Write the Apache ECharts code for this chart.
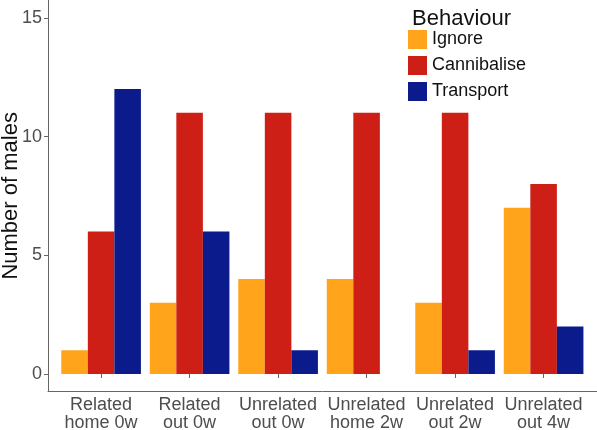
<!doctype html>
<html><head><meta charset="utf-8" />
<style>
  html,body,#app{margin:0;padding:0;width:597px;height:430px;background:#ffffff}
</style>
<script src="https://cdn.jsdelivr.net/npm/echarts@6/dist/echarts.min.js"></script>
</head><body><div id="app"></div>
<script>
// grouped counts per treatment
const categories = ['Related\nhome 0w','Related\nout 0w','Unrelated\nout 0w','Unrelated\nhome 2w','Unrelated\nout 2w','Unrelated\nout 4w'];
const ignore      = [1, 3, 4, 4, 3, 7];
const cannibalise = [6, 11, 11, 11, 11, 8];
const transport   = [12, 6, 1, 0, 1, 2];
const yTicks = [0, 5, 10, 15];

const FONT = 'Arial, "Liberation Sans", sans-serif';
const AXIS = '#666666';
const TXT = '#4d4d4d';

const chart = echarts.init(document.getElementById('app'), null, { renderer: 'canvas' });

// grid 0 = full panel (axis lines only), grid 1 = discrete scale with 0.6 expansion for the bars
const option = {
  backgroundColor: '#ffffff',
  animation: false,
  textStyle: { fontFamily: FONT },
  title: { text: 'Behaviour', left: 407, top: 3, textStyle: { fontFamily: FONT, fontSize: 22, fontWeight: 'normal', color: '#111' } },
  legend: {
    data: ['Ignore','Cannibalise','Transport'], orient: 'vertical', left: 408, top: 30,
    itemWidth: 19, itemHeight: 19, itemGap: 7, icon: 'rect', padding: 0,
    textStyle: { fontFamily: FONT, fontSize: 18, color: '#111' }
  },
  grid: [
    { left: 48, right: 0, top: 0, bottom: 38.3, outerBoundsMode: 'none', containLabel: false },
    { left: 56.85, right: 9.15, top: 0, bottom: 56, outerBoundsMode: 'none', containLabel: false }
  ],
  xAxis: [
    { gridIndex: 0, type: 'value', min: 0, max: 1, axisLine: { show: true, lineStyle: { color: AXIS, width: 1 } },
      axisTick: { show: false }, axisLabel: { show: false }, splitLine: { show: false } },
    { gridIndex: 1, type: 'category', data: categories, offset: 17.7,
      axisLine: { show: false }, axisTick: { show: true, alignWithLabel: true, length: 4, lineStyle: { color: AXIS } },
      axisLabel: { color: TXT, fontSize: 18, fontFamily: FONT, lineHeight: 17.5, margin: 5, interval: 0 } }
  ],
  yAxis: [
    { gridIndex: 0, type: 'value', min: 0, max: 1, axisLine: { show: true, lineStyle: { color: AXIS, width: 1 } },
      axisTick: { show: false }, axisLabel: { show: false }, splitLine: { show: false },
      name: 'Number of males', nameLocation: 'middle', nameGap: 26, nameRotate: 90,
      nameTextStyle: { fontFamily: FONT, fontSize: 22, color: '#111' } },
    { gridIndex: 1, type: 'value', min: 0, max: 15.75, interval: 5, offset: 8.85,
      axisLine: { show: false },
      axisTick: { show: true, length: 4, customValues: yTicks, lineStyle: { color: AXIS } },
      axisLabel: { color: TXT, fontSize: 18, fontFamily: FONT, margin: 6, customValues: yTicks },
      splitLine: { show: false } }
  ],
  series: [
    { name: 'Ignore', type: 'bar', xAxisIndex: 1, yAxisIndex: 1, data: ignore, itemStyle: { color: '#FFA41B' }, barGap: '0%', barCategoryGap: '10%' },
    { name: 'Cannibalise', type: 'bar', xAxisIndex: 1, yAxisIndex: 1, data: cannibalise, itemStyle: { color: '#CD1F16' }, barGap: '0%', barCategoryGap: '10%' },
    { name: 'Transport', type: 'bar', xAxisIndex: 1, yAxisIndex: 1, data: transport, itemStyle: { color: '#0B1B8B' }, barGap: '0%', barCategoryGap: '10%' }
  ]
};
chart.setOption(option);
</script></body></html>
